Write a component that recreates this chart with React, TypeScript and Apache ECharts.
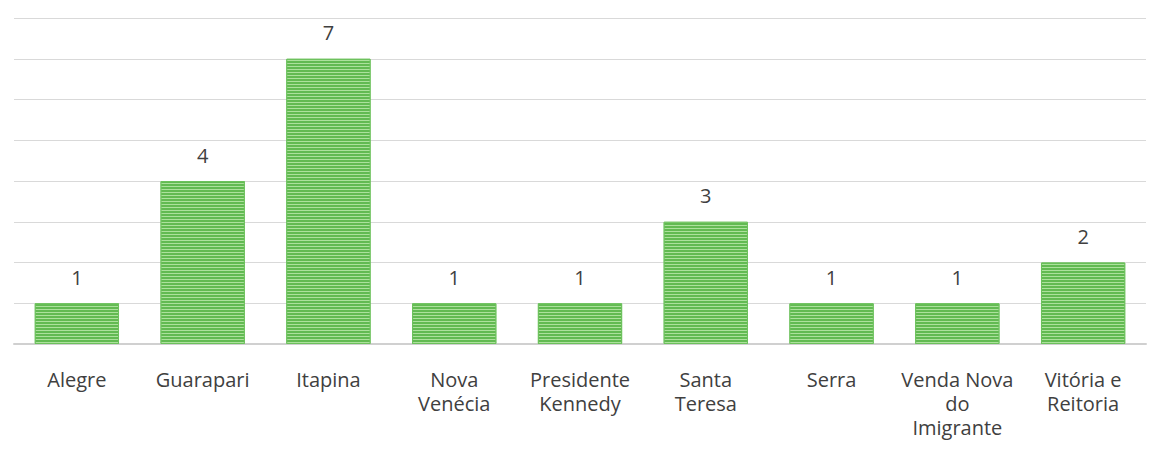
import React, { useEffect, useRef } from "react";
import * as echarts from "echarts";

const categories = [
  "Alegre",
  "Guarapari",
  "Itapina",
  "Nova\nVenécia",
  "Presidente\nKennedy",
  "Santa\nTeresa",
  "Serra",
  "Venda Nova\ndo\nImigrante",
  "Vitória e\nReitoria",
];
const values = [1, 4, 7, 1, 1, 3, 1, 1, 2];

const FONT = "'Open Sans', 'Noto Sans', sans-serif";

export default function App() {
  const ref = useRef<HTMLDivElement>(null);
  useEffect(() => {
    const chart = echarts.init(ref.current!, null, { renderer: "svg" });
    chart.setOption({
      animation: false,
      grid: { left: 14, right: 9, top: 18, bottom: 112, containLabel: false },
      xAxis: {
        type: "category",
        data: categories,
        axisLine: { lineStyle: { color: "#d0d0d0", width: 2 } },
        axisTick: { show: false },
        axisLabel: {
          color: "#404040",
          fontSize: 20,
          fontFamily: FONT,
          lineHeight: 24,
          margin: 23,
          interval: 0,
        },
      },
      yAxis: {
        type: "value",
        min: 0,
        max: 8,
        interval: 1,
        axisLabel: { show: false },
        axisLine: { show: false },
        axisTick: { show: false },
        splitLine: { lineStyle: { color: "#d9d9d9", width: 1 } },
      },
      series: [
        {
          type: "bar",
          data: values,
          barCategoryGap: "33%",
          itemStyle: {
            color: "#62ba52",
            borderColor: "#6cc15c",
            borderWidth: 1,
            decal: {
              symbol: "rect",
              dashArrayX: [1, 0],
              dashArrayY: [1, 2],
              color: "rgba(190,235,175,0.8)",
              rotation: 0,
              symbolSize: 1,
            },
          },
          label: {
            show: true,
            position: "top",
            distance: 16,
            color: "#404040",
            fontSize: 20,
            fontFamily: FONT,
          },
        },
      ],
    });
    return () => chart.dispose();
  }, []);
  return (
    <div
      ref={ref}
      style={{ position: "fixed", left: 0, top: 0, width: 1155, height: 456, background: "#fff" }}
    />
  );
}
